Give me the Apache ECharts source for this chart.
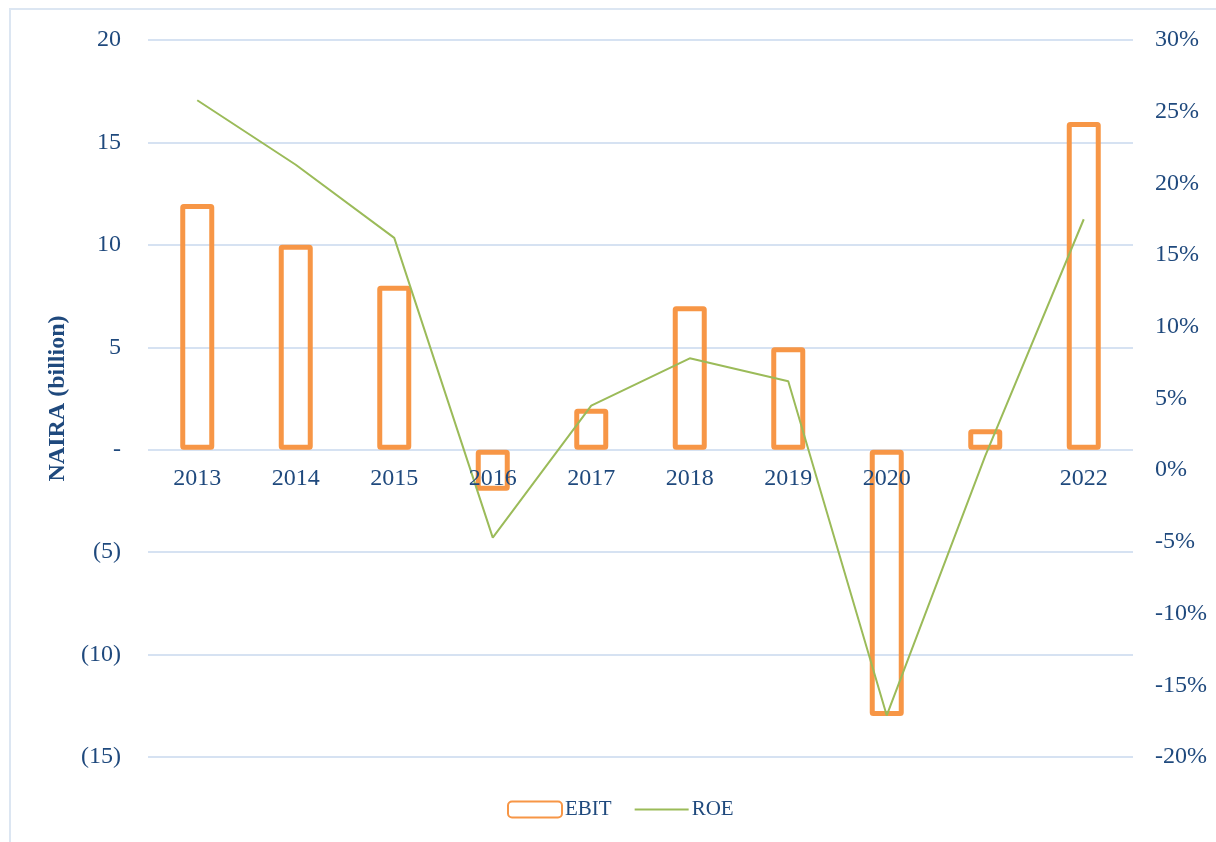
<!DOCTYPE html>
<html>
<head>
<meta charset="utf-8">
<script src="https://cdn.jsdelivr.net/npm/echarts@6/dist/echarts.min.js"></script>
<style>html,body{margin:0;padding:0;background:#fff}#c{width:1216px;height:842px}</style>
</head>
<body>
<div id="c"></div>
<script>
const categories = ['2013','2014','2015','2016','2017','2018','2019','2020','2021','2022'];
const categoryLabels = ['2013','2014','2015','2016','2017','2018','2019','2020','','2022'];
const ebit = [12, 10, 8, -2, 2, 7, 5, -13, 1, 16];
const roe = [25.8, 21.3, 16.2, -4.7, 4.5, 7.8, 6.2, -17.1, 1.0, 17.5];

const FONT = '"Liberation Serif", "DejaVu Serif", serif';
const TXT = '#1F497D';
const chart = echarts.init(document.getElementById('c'));
chart.setOption({
  animation: false,
  backgroundColor: '#fff',
  textStyle: { fontFamily: FONT },
  graphic: [{
    type: 'rect', shape: { x: 10, y: 9, width: 1220, height: 850 },
    style: { fill: 'none', stroke: '#DCE6F2', lineWidth: 2 }, silent: true
  }],
  grid: { left: 148, right: 83, top: 40, bottom: 85 },
  legend: {
    top: 794, left: 502,
    itemWidth: 54, itemHeight: 16, itemGap: 22,
    textStyle: { color: TXT, fontSize: 21, fontFamily: FONT, padding: [0, 0, 0, -2] },
    data: [{ name: 'EBIT' }, { name: 'ROE', itemStyle: { opacity: 0 } }]
  },
  xAxis: {
    type: 'category', data: categories, offset: -308, z: 10,
    axisLine: { show: false, onZero: false },
    axisTick: { show: false },
    axisLabel: {
      color: TXT, fontSize: 24, fontFamily: FONT, margin: 18,
      formatter: (v, i) => categoryLabels[i]
    }
  },
  yAxis: [{
    type: 'value', min: -15, max: 20, interval: 5,
    name: 'NAIRA (billion)', nameLocation: 'middle', nameGap: 74, nameRotate: 90,
    nameTextStyle: { color: TXT, fontSize: 24, fontWeight: 'bold', fontFamily: FONT },
    axisLine: { show: false }, axisTick: { show: false },
    splitLine: { lineStyle: { color: '#D6E2F2', width: 2 } },
    axisLabel: {
      color: TXT, fontSize: 24, fontFamily: FONT, margin: 27,
      formatter: v => v === 0 ? '-' : (v < 0 ? '(' + (-v) + ')' : String(v))
    }
  }, {
    type: 'value', min: -20, max: 30, interval: 5, position: 'right',
    axisLine: { show: false }, axisTick: { show: false }, splitLine: { show: false },
    axisLabel: { color: TXT, fontSize: 24, fontFamily: FONT, margin: 22, formatter: '{value}%' }
  }],
  series: [{
    name: 'EBIT', type: 'bar', data: ebit, barWidth: 34, yAxisIndex: 0,
    itemStyle: { color: 'rgba(255,255,255,0)', borderColor: '#F79646', borderWidth: 5, borderRadius: 1 },
    z: 2
  }, {
    name: 'ROE', type: 'line', data: roe, yAxisIndex: 1,
    symbol: 'none', lineStyle: { color: '#9BBB59', width: 2 }, itemStyle: { color: '#9BBB59' },
    z: 3
  }]
});
</script>
</body>
</html>
